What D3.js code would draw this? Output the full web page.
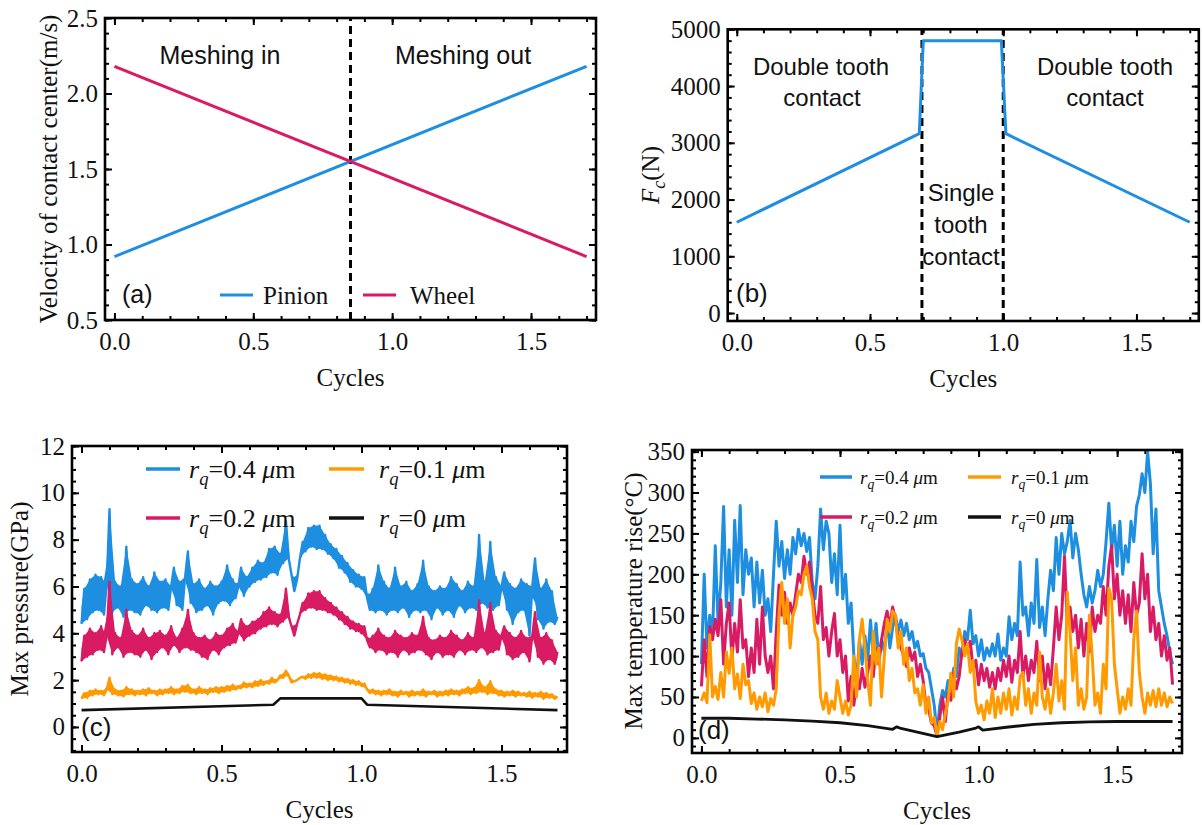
<!DOCTYPE html>
<html>
<head>
<meta charset="utf-8">
<script src="https://cdn.jsdelivr.net/npm/d3@7"></script>
<style>
  body { margin: 0; background: #fff; }
  svg { display: block; }
</style>
</head>
<body>
<svg id="fig" width="1202" height="825"></svg>
<script>
// ---------------- data ----------------
// (a) velocity of contact centre
const velCycles = [0, 1.7];
const pinionVel = [0.92, 2.18];
const wheelVel = [2.18, 0.92];
const pitchCycle = 0.85;

// (b) contact force
const forceCycles = [0, 0.685, 0.70, 0.993, 1.01, 1.70];
const forceN = [1600, 3160, 4800, 4800, 3160, 1600];
const contactBounds = [0.695, 1.0];

// (c)/(d) sampled every 0.01 cycle from 0 to 1.70
const sampleCycles = d3.range(171).map(i => i / 100);

const pressure04 = [
  4.4,5.9,4.6,6.3,4.9,6.5,5.0,6.4,4.8,6.1,
  9.3,4.9,6.2,5.1,6.0,4.7,7.7,5.0,6.3,4.9,
  6.1,4.8,6.4,5.2,6.0,5.0,6.6,4.9,6.2,5.1,
  6.3,5.0,6.0,6.8,5.2,6.2,5.0,6.4,7.5,5.3,
  6.1,4.9,6.3,5.0,5.9,5.2,6.2,4.8,6.0,5.3,
  6.2,5.4,6.9,5.2,6.3,5.5,6.0,6.8,5.6,6.4,
  6.0,6.8,6.2,7.1,6.3,7.0,6.4,7.6,6.6,7.7,
  6.5,7.4,7.0,8.8,7.2,6.5,5.8,6.3,7.2,7.9,
  7.5,8.5,7.7,8.6,7.6,8.6,7.6,8.2,7.4,7.8,
  7.2,7.6,6.8,7.3,6.6,7.0,6.2,6.7,6.0,6.5,
  5.9,6.4,5.5,5.0,5.9,4.9,6.9,5.0,6.2,4.8,
  5.9,5.0,6.8,4.9,6.0,5.1,6.2,4.7,5.8,5.0,
  6.1,4.9,7.1,5.0,6.0,4.6,5.8,5.1,6.0,4.8,
  5.9,5.0,6.4,4.7,6.1,5.2,5.8,4.9,6.2,5.1,
  6.0,5.0,8.2,5.3,6.2,5.1,7.9,5.0,6.4,5.2,
  6.0,6.6,5.0,6.1,4.4,5.9,4.9,6.3,5.0,6.1,
  3.9,6.0,7.2,4.6,5.9,4.2,6.3,4.5,5.8,4.4,
  4.7
];
const pressure02 = [
  2.8,3.9,3.0,4.2,3.1,4.0,3.3,4.3,3.2,3.9,
  6.2,3.1,4.0,3.4,3.8,3.0,5.0,3.2,4.1,3.1,
  3.9,3.0,4.2,3.3,3.8,2.9,4.0,3.2,4.1,3.4,
  3.9,3.1,4.3,3.5,3.8,3.2,4.2,3.4,5.0,3.3,
  4.0,3.2,3.8,3.0,3.9,2.9,3.7,3.3,4.0,3.1,
  3.9,3.4,4.2,3.5,4.4,3.6,4.0,4.6,3.7,4.3,
  3.9,4.5,4.0,4.6,4.2,4.9,4.3,5.1,4.4,4.9,
  4.3,4.8,4.5,5.9,4.7,4.3,3.9,4.4,4.8,5.3,
  5.0,5.7,5.1,5.8,5.0,5.8,5.0,5.5,4.9,5.3,
  4.8,5.1,4.6,4.9,4.4,4.7,4.2,4.5,4.1,4.4,
  4.0,4.3,3.7,3.4,3.9,3.2,4.2,3.3,3.9,3.1,
  3.8,3.2,4.1,3.0,3.9,3.3,3.8,3.1,4.0,3.2,
  3.9,3.3,4.7,3.1,3.8,2.9,3.7,3.2,3.9,3.0,
  3.8,3.1,4.1,3.0,3.9,3.3,3.7,3.1,4.0,3.3,
  3.8,3.2,5.4,3.4,4.0,3.1,5.3,3.2,4.1,3.3,
  3.9,4.3,3.1,4.0,2.9,3.8,3.0,4.1,3.2,3.8,
  2.8,3.9,4.9,3.0,3.8,2.7,4.0,2.9,3.7,2.7,
  3.2
];
const pressure01 = [
  1.2,1.45,1.25,1.55,1.35,1.6,1.4,1.55,1.35,1.6,
  2.1,1.4,1.6,1.35,1.55,1.3,1.7,1.4,1.6,1.35,
  1.55,1.4,1.6,1.35,1.65,1.45,1.55,1.35,1.6,1.4,
  1.6,1.45,1.7,1.4,1.6,1.45,1.75,1.5,1.8,1.45,
  1.6,1.4,1.7,1.45,1.6,1.4,1.65,1.5,1.7,1.45,
  1.7,1.5,1.75,1.55,1.8,1.6,1.75,1.65,1.9,1.7,
  1.85,1.7,1.95,1.75,2.0,1.8,1.95,1.85,2.1,1.9,
  2.0,2.2,2.1,2.4,2.2,1.9,1.95,2.0,2.1,2.15,
  2.05,2.25,2.1,2.3,2.1,2.3,2.05,2.25,2.0,2.2,
  2.0,2.15,1.95,2.1,1.9,2.05,1.85,2.0,1.8,1.95,
  1.75,1.85,1.6,1.45,1.6,1.4,1.55,1.35,1.55,1.4,
  1.6,1.35,1.5,1.3,1.55,1.4,1.5,1.3,1.55,1.35,
  1.5,1.35,1.6,1.3,1.5,1.4,1.55,1.3,1.5,1.35,
  1.55,1.35,1.6,1.4,1.55,1.35,1.6,1.45,1.7,1.4,
  1.65,1.45,2.0,1.5,1.7,1.4,1.95,1.45,1.6,1.35,
  1.55,1.3,1.5,1.35,1.55,1.3,1.5,1.35,1.45,1.3,
  1.5,1.25,1.45,1.3,1.5,1.2,1.45,1.25,1.4,1.2,
  1.3
];
const smoothPressCycles = [0, 0.685, 0.71, 1.0, 1.02, 1.7];
const pressure0 = [0.72, 0.95, 1.22, 1.22, 0.95, 0.72];

const temp04 = [
  90,200,110,150,125,235,140,190,283,160,
  230,150,266,190,284,175,230,200,220,160,
  215,165,205,150,170,130,200,265,210,240,
  195,230,200,245,225,255,235,250,228,245,
  190,170,210,280,230,265,250,190,225,175,
  260,170,200,140,165,100,70,120,90,125,
  95,144,100,140,95,120,105,144,110,135,
  150,130,144,125,140,120,130,110,118,100,
  103,85,80,60,40,5,40,58,50,70,
  62,85,75,110,100,130,120,156,115,125,
  100,120,95,110,100,115,100,127,95,110,
  100,148,120,140,125,215,150,160,125,165,
  140,218,135,160,125,170,205,180,245,200,
  250,225,240,266,220,250,230,200,175,160,
  185,165,180,205,185,200,240,287,230,260,
  210,265,200,235,215,265,240,283,297,323,
  300,350,311,225,280,180,160,140,125,105,
  90
];
const temp02 = [
  63,120,75,136,120,145,125,169,90,140,
  165,95,140,105,169,110,120,75,110,80,
  145,90,160,100,80,100,60,130,187,150,
  178,140,165,150,175,200,190,222,200,215,
  180,150,140,185,120,135,100,130,152,100,
  120,80,100,45,75,40,70,60,85,62,
  80,100,75,110,90,120,140,155,136,160,
  145,120,110,100,87,110,95,105,75,90,
  70,40,35,18,15,2,25,50,20,55,
  46,79,60,75,105,120,110,118,85,95,
  65,90,70,85,62,80,60,85,70,95,
  75,100,68,95,80,130,75,100,70,95,
  80,118,70,100,60,90,65,110,160,120,
  150,222,140,160,130,150,110,145,100,140,
  105,160,130,150,140,185,150,210,235,170,
  200,150,180,140,175,130,190,150,165,225,
  170,200,130,160,120,140,100,125,95,110,
  65
];
const temp01 = [
  45,55,43,126,50,63,47,80,50,105,
  79,110,60,78,48,90,65,70,42,55,
  35,50,38,55,32,48,40,60,150,190,
  140,170,110,150,160,180,175,200,210,185,
  170,130,120,50,35,55,30,45,35,70,
  50,30,45,28,40,100,50,120,145,110,
  70,40,130,90,110,50,100,145,130,155,
  150,110,130,90,110,70,85,55,60,40,
  65,30,50,18,25,2,20,10,30,45,
  79,50,115,133,120,100,115,80,95,45,
  30,40,22,45,30,60,25,50,30,55,
  35,60,28,50,35,75,80,40,60,30,
  55,40,105,50,35,60,30,55,90,45,
  70,35,178,130,70,110,40,60,35,50,
  150,100,40,55,30,90,60,183,170,90,
  60,30,50,35,60,40,120,155,80,50,
  30,55,40,58,38,60,40,55,38,50,
  42
];
const smoothTempCycles = [0, 0.1, 0.2, 0.3, 0.4, 0.5, 0.6, 0.69, 0.705, 0.72, 0.85, 0.93, 0.99, 1.0, 1.015, 1.1, 1.2, 1.3, 1.4, 1.5, 1.6, 1.7];
const temp0 = [24, 24, 23, 22, 20.5, 18.5, 15, 10.5, 13.5, 11.5, 1.5, 7, 12, 13.5, 9.5, 13, 16.5, 18.5, 19.5, 20, 20, 20];

// tick values
const cycleTicks = [0, 0.5, 1.0, 1.5];
const cycleMinor = d3.range(0, 1.71, 0.1);
const velTicks = [0.5, 1.0, 1.5, 2.0, 2.5];
const forceTicks = [0, 1000, 2000, 3000, 4000, 5000];
const pressTicks = [0, 2, 4, 6, 8, 10, 12];
const tempTicks = [0, 50, 100, 150, 200, 250, 300, 350];

const roughLabels = ["0.4", "0.1", "0.2", "0"];

// ---------------- style ----------------
const BLUE = "#1e8fe0";
const PINK = "#d81b63";
const ORANGE = "#ff9a00";
const BLACK = "#111";
const SERIF = "'Liberation Serif','Times New Roman',serif";
const SANS = "'Liberation Sans',Arial,sans-serif";

const svg = d3.select("#fig");

// Frame with inward ticks on all four sides
function panel(o) {
  const g = svg.append("g");
  const x = d3.scaleLinear().domain([-0.034, 1.734]).range([o.left, o.right]);
  const y = d3.scaleLinear().domain(o.yDomain).range([o.bottom, o.top]);

  const clipId = "clip" + o.id;
  svg.append("clipPath").attr("id", clipId).append("rect")
    .attr("x", o.left).attr("y", o.top)
    .attr("width", o.right - o.left).attr("height", o.bottom - o.top);

  function axisLayer(axis, tf, labels) {
    const s = g.append("g").attr("transform", tf).call(axis);
    s.select(".domain").remove();
    s.selectAll("line").attr("stroke", "#000").attr("stroke-width", 2);
    s.selectAll("text").attr("font-family", SERIF).attr("font-size", 25).attr("fill", "#111");
    if (!labels) s.selectAll("text").remove();
    return s;
  }
  const yMinor = o.yMinor.filter(v => v >= o.yDomain[0] && v <= o.yDomain[1]);
  // bottom
  axisLayer(d3.axisBottom(x).tickValues(cycleMinor).tickSizeInner(-4).tickSizeOuter(0).tickFormat(""), `translate(0,${o.bottom})`, false);
  axisLayer(d3.axisBottom(x).tickValues(cycleTicks).tickSizeInner(-7).tickSizeOuter(0).tickPadding(12).tickFormat(d3.format(".1f")), `translate(0,${o.bottom})`, true);
  // top
  axisLayer(d3.axisTop(x).tickValues(cycleMinor).tickSizeInner(-4).tickSizeOuter(0).tickFormat(""), `translate(0,${o.top})`, false);
  axisLayer(d3.axisTop(x).tickValues(cycleTicks).tickSizeInner(-7).tickSizeOuter(0).tickFormat(""), `translate(0,${o.top})`, false);
  // left
  axisLayer(d3.axisLeft(y).tickValues(yMinor).tickSizeInner(-4).tickSizeOuter(0).tickFormat(""), `translate(${o.left},0)`, false);
  axisLayer(d3.axisLeft(y).tickValues(o.yTicks).tickSizeInner(-7).tickSizeOuter(0).tickPadding(7).tickFormat(o.yFmt), `translate(${o.left},0)`, true);
  // right
  axisLayer(d3.axisRight(y).tickValues(yMinor).tickSizeInner(-4).tickSizeOuter(0).tickFormat(""), `translate(${o.right},0)`, false);
  axisLayer(d3.axisRight(y).tickValues(o.yTicks).tickSizeInner(-7).tickSizeOuter(0).tickFormat(""), `translate(${o.right},0)`, false);

  // x title
  g.append("text").attr("x", (o.left + o.right) / 2).attr("y", o.bottom + 57).attr("dy", "0.35em")
    .attr("text-anchor", "middle").attr("font-family", SERIF).attr("font-size", 25).attr("fill", "#111")
    .text("Cycles");

  const plot = g.append("g").attr("clip-path", `url(#${clipId})`);
  const over = g.append("g");
  // frame drawn after the data
  const frame = () => over.append("rect").attr("x", o.left).attr("y", o.top)
      .attr("width", o.right - o.left).attr("height", o.bottom - o.top)
      .attr("fill", "none").attr("stroke", "#000").attr("stroke-width", 2.6);
  return { g, x, y, plot, over, frame };
}

function yTitle(g, cx, cy, build) {
  const t = g.append("text").attr("transform", `translate(${cx},${cy}) rotate(-90)`)
    .attr("text-anchor", "middle").attr("dy", "0.35em")
    .attr("font-family", SERIF).attr("font-size", 25).attr("fill", "#111");
  build(t);
}

function sansText(g, x, y, str, size, anchor) {
  g.append("text").attr("x", x).attr("y", y).attr("dy", "0.35em")
    .attr("text-anchor", anchor || "middle").attr("font-family", SANS)
    .attr("font-size", size).attr("fill", "#111").text(str);
}

function drawLine(p, xs, ys, color, width) {
  const line = d3.line().x((d, i) => p.x(xs[i])).y(d => p.y(d));
  p.plot.append("path").datum(ys).attr("d", line).attr("fill", "none")
    .attr("stroke", color).attr("stroke-width", width)
    .attr("stroke-linejoin", "round").attr("stroke-linecap", "butt");
}

// Rapidly oscillating signal: shade the region swept between successive
// samples (the zig-zag's own envelope), then stroke the trace on top.
function drawOscillation(p, xs, ys, color, width) {
  const n = ys.length;
  const other = i => {
    const a = ys[Math.max(0, i - 1)], b = ys[Math.min(n - 1, i + 1)];
    return (a + b) / 2;
  };
  const band = d3.area()
    .x((d, i) => p.x(xs[i]))
    .y0((d, i) => p.y(Math.min(d, other(i))))
    .y1((d, i) => p.y(Math.max(d, other(i))));
  p.plot.append("path").datum(ys).attr("d", band).attr("fill", color).attr("stroke", "none");
  drawLine(p, xs, ys, color, width);
}

function dashed(p, c) {
  p.plot.append("line").attr("x1", p.x(c)).attr("x2", p.x(c))
    .attr("y1", p.y.range()[0]).attr("y2", p.y.range()[1])
    .attr("stroke", "#000").attr("stroke-width", 3).attr("stroke-dasharray", "8,5");
}

function rqText(g, x, y, val, size) {
  const t = g.append("text").attr("x", x).attr("y", y).attr("dy", "0.35em")
    .attr("font-family", SERIF).attr("font-size", size).attr("fill", "#111");
  t.append("tspan").attr("font-style", "italic").text("r");
  t.append("tspan").attr("font-style", "italic").attr("font-size", size * 0.72).attr("dy", size * 0.28).text("q");
  t.append("tspan").attr("dy", -size * 0.28).text("=" + val + "\u00a0");
  t.append("tspan").attr("font-style", "italic").text("\u03bc");
  t.append("tspan").text("m");
}

function legendKey(g, x1, x2, y, color, w) {
  g.append("line").attr("x1", x1).attr("x2", x2).attr("y1", y).attr("y2", y)
    .attr("stroke", color).attr("stroke-width", w);
}

// ---------------- (a) ----------------
{
  const p = panel({ id: "a", left: 105, right: 596, top: 18, bottom: 320,
    yDomain: [0.5, 2.5], yTicks: velTicks, yMinor: d3.range(0.5, 2.51, 0.1), yFmt: d3.format(".1f") });
  dashed(p, pitchCycle);
  drawLine(p, velCycles, pinionVel, BLUE, 3);
  drawLine(p, velCycles, wheelVel, PINK, 3);
  p.frame();
  yTitle(p.g, 48, 169, t => t.text("Velocity of contact center(m/s)"));
  sansText(p.over, 220, 55, "Meshing in", 25);
  sansText(p.over, 463, 55, "Meshing out", 25);
  sansText(p.over, 122, 294, "(a)", 25, "start");
  legendKey(p.over, 220, 253, 295, BLUE, 3);
  p.over.append("text").attr("x", 263).attr("y", 295).attr("dy", "0.35em")
    .attr("font-family", SERIF).attr("font-size", 25).attr("fill", "#111").text("Pinion");
  legendKey(p.over, 363, 396, 295, PINK, 3);
  p.over.append("text").attr("x", 410).attr("y", 295).attr("dy", "0.35em")
    .attr("font-family", SERIF).attr("font-size", 25).attr("fill", "#111").text("Wheel");
}

// ---------------- (b) ----------------
{
  const p = panel({ id: "b", left: 727.7, right: 1198.8, top: 29.3, bottom: 321,
    yDomain: [-140, 5000], yTicks: forceTicks, yMinor: d3.range(0, 5001, 200), yFmt: d3.format("d") });
  contactBounds.forEach(c => dashed(p, c));
  drawLine(p, forceCycles, forceN, BLUE, 3);
  p.frame();
  yTitle(p.g, 650, 175, t => {
    t.append("tspan").attr("font-style", "italic").text("F");
    t.append("tspan").attr("font-style", "italic").attr("font-size", 18).attr("dy", 6).text("c");
    t.append("tspan").attr("dy", -6).text("(N)");
  });
  sansText(p.over, 821, 67, "Double tooth", 24);
  sansText(p.over, 822, 98, "contact", 24);
  sansText(p.over, 1105, 67, "Double tooth", 24);
  sansText(p.over, 1105, 98, "contact", 24);
  sansText(p.over, 961, 193, "Single", 24);
  sansText(p.over, 961, 225, "tooth", 24);
  sansText(p.over, 961, 257, "contact", 24);
  sansText(p.over, 736, 293, "(b)", 26, "start");
}

// ---------------- (c) ----------------
{
  const p = panel({ id: "c", left: 72, right: 567, top: 446, bottom: 752,
    yDomain: [-1.07, 12], yTicks: pressTicks, yMinor: d3.range(-1, 12.01, 0.5), yFmt: d3.format("d") });
  drawOscillation(p, sampleCycles, pressure04, BLUE, 2.4);
  drawOscillation(p, sampleCycles, pressure02, PINK, 2.4);
  drawOscillation(p, sampleCycles, pressure01, ORANGE, 2.4);
  drawLine(p, smoothPressCycles, pressure0, BLACK, 2.6);
  p.frame();
  yTitle(p.g, 19, 599, t => t.text("Max pressure(GPa)"));
  sansText(p.over, 81, 727, "(c)", 26, "start");
  const cols = [[146, 180, 189], [329, 364, 379]];
  const rows = [469, 518];
  const keys = [BLUE, ORANGE, PINK, BLACK];
  keys.forEach((c, i) => {
    const col = cols[i % 2], row = rows[Math.floor(i / 2)];
    legendKey(p.over, col[0], col[1], row, c, 3.5);
    rqText(p.over, col[2], row, roughLabels[i], 26);
  });
}

// ---------------- (d) ----------------
{
  const p = panel({ id: "d", left: 692, right: 1182, top: 450, bottom: 753,
    yDomain: [-18.5, 352], yTicks: tempTicks, yMinor: d3.range(-10, 351, 10), yFmt: d3.format("d") });
  drawLine(p, sampleCycles, temp04, BLUE, 3);
  drawLine(p, sampleCycles, temp02, PINK, 3);
  drawLine(p, sampleCycles, temp01, ORANGE, 3);
  drawLine(p, smoothTempCycles, temp0, BLACK, 2.8);
  p.frame();
  yTitle(p.g, 633, 601, t => t.text("Max temperature rise(\u00b0C)"));
  sansText(p.over, 698, 730, "(d)", 26, "start");
  const cols = [[820, 852, 860], [968, 1001, 1011]];
  const rows = [477, 517];
  const keys = [BLUE, ORANGE, PINK, BLACK];
  keys.forEach((c, i) => {
    const col = cols[i % 2], row = rows[Math.floor(i / 2)];
    legendKey(p.over, col[0], col[1], row, c, 3.5);
    rqText(p.over, col[2], row, roughLabels[i], 19);
  });
}
</script>
</body>
</html>
